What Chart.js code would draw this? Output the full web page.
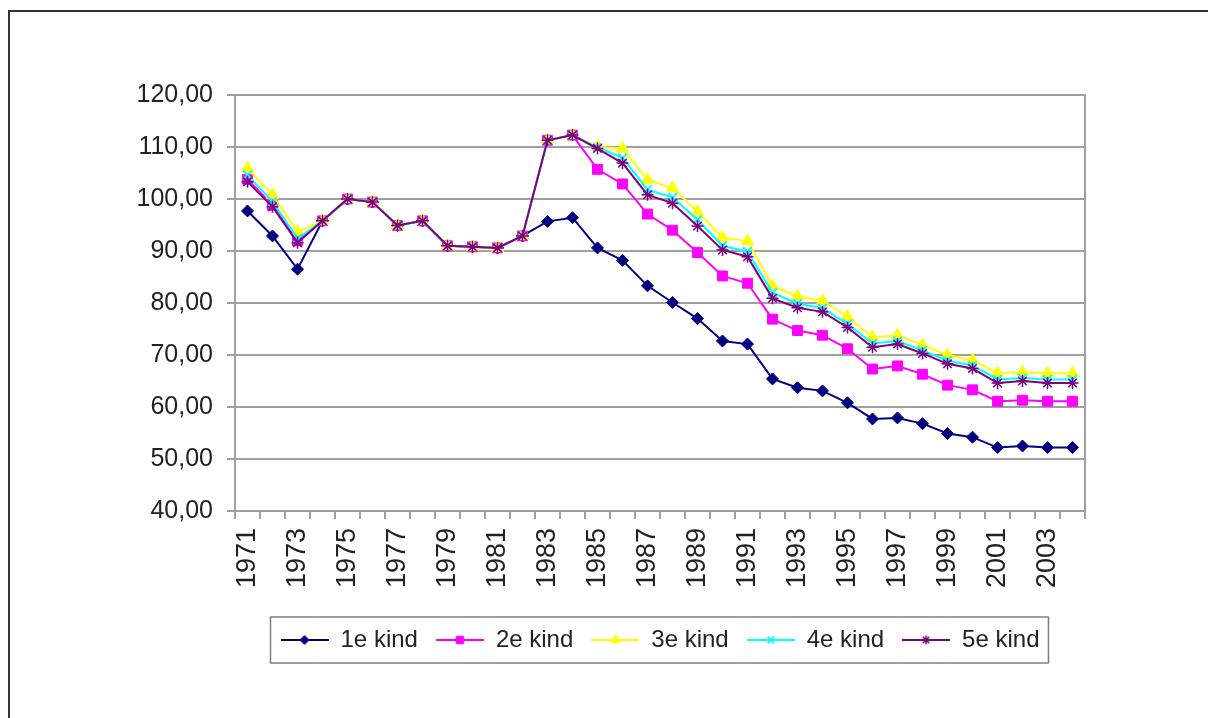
<!DOCTYPE html>
<html>
<head>
<meta charset="utf-8">
<script src="https://cdn.jsdelivr.net/npm/chart.js@4/dist/chart.umd.min.js"></script>
<style>
    body { margin: 0; background: #fff; overflow: hidden; }
    .frame {
        position: absolute; left: 8px; top: 10px;
        width: 1400px; height: 900px;
        border-left: 2px solid #333; border-top: 2px solid #333;
    }
    .wrap { position: absolute; left: 0; top: 0; width: 1208px; height: 718px; }
</style>
</head>
<body>
<div class="frame"></div>
<div class="wrap"><canvas id="chart"></canvas></div>
<script>
// Years on the x axis
const years = [1971, 1972, 1973, 1974, 1975, 1976, 1977, 1978, 1979, 1980,
    1981, 1982, 1983, 1984, 1985, 1986, 1987, 1988, 1989, 1990,
    1991, 1992, 1993, 1994, 1995, 1996, 1997, 1998, 1999, 2000,
    2001, 2002, 2003, 2004];

const seriesNames = ['1e kind', '2e kind', '3e kind', '4e kind', '5e kind'];

const kind1 = [97.7, 92.9, 86.5, 95.8, 100.0, 99.4, 94.9, 95.8, 91.0, 90.8,
    90.6, 92.9, 95.7, 96.4, 90.6, 88.2, 83.3, 80.1, 77.0, 72.7,
    72.1, 65.4, 63.7, 63.1, 60.8, 57.7, 57.9, 56.8, 54.9, 54.2,
    52.2, 52.5, 52.2, 52.2];
const kind2 = [103.8, 98.8, 92.0, 95.8, 100.0, 99.4, 94.9, 95.8, 91.0, 90.8,
    90.6, 92.9, 111.3, 112.3, 105.7, 102.9, 97.1, 94.0, 89.7, 85.2,
    83.8, 76.9, 74.7, 73.8, 71.2, 67.3, 67.9, 66.3, 64.2, 63.3,
    61.1, 61.3, 61.1, 61.1];
const kind3 = [105.9, 100.8, 93.7, 95.8, 100.0, 99.4, 94.9, 95.8, 91.0, 90.8,
    90.6, 92.9, 111.3, 112.3, 110.0, 109.7, 103.7, 102.1, 97.6, 92.6,
    91.9, 83.3, 81.3, 80.4, 77.4, 73.4, 73.8, 71.9, 70.0, 69.0,
    66.5, 66.7, 66.5, 66.5];
const kind4 = [104.6, 99.5, 92.4, 95.8, 100.0, 99.4, 94.9, 95.8, 91.0, 90.8,
    90.6, 92.9, 111.3, 112.3, 109.9, 107.9, 101.8, 100.3, 96.0, 91.0,
    89.9, 82.0, 79.9, 79.0, 76.0, 72.2, 72.7, 70.9, 68.9, 68.0,
    65.3, 65.6, 65.3, 65.3];
const kind5 = [103.3, 98.5, 91.6, 95.8, 100.0, 99.4, 94.9, 95.8, 91.0, 90.8,
    90.6, 92.9, 111.3, 112.3, 109.7, 106.9, 100.8, 99.2, 94.8, 90.2,
    88.9, 80.9, 79.1, 78.3, 75.3, 71.5, 72.1, 70.3, 68.3, 67.4,
    64.6, 65.0, 64.6, 64.6];

const yMin = 40;
const yMax = 120;
const yStep = 10;

const gridColor = '#a0a0a0';
const textColor = '#222';
const fontFamily = '"Liberation Sans", Arial, sans-serif';

// Marker style per series (Excel-like)
const styles = [
    { color: '#000080', line: '#000080', point: 'rectRot', radius: 6, bw: 1 },
    { color: '#ff00ff', line: '#ff00ff', point: 'rect', radius: 7, bw: 1 },
    { color: '#ffff00', line: '#ffff00', point: 'triangle', radius: 7, bw: 1 },
    { color: '#00ffff', line: '#00ffff', point: 'crossRot', radius: 6, bw: 2 },
    { color: '#800080', line: '#800080', point: 'star', radius: 6, bw: 1.5 }
];
const allSeries = [kind1, kind2, kind3, kind4, kind5];

// Little line + marker images for the legend
function legendIcon(s) {
    const c = document.createElement('canvas');
    c.width = 48;
    c.height = 16;
    const g = c.getContext('2d');
    g.strokeStyle = s.line;
    g.lineWidth = 2;
    g.beginPath();
    g.moveTo(0, 8);
    g.lineTo(48, 8);
    g.stroke();
    g.fillStyle = s.color;
    g.strokeStyle = s.color;
    g.lineWidth = s.bw;
    Chart.helpers.drawPoint(g, { pointStyle: s.point, radius: s.radius * 0.75, borderWidth: s.bw, rotation: 0 }, 24, 8);
    return c;
}
const icons = styles.map(legendIcon);

const datasets = allSeries.map((data, i) => ({
    label: seriesNames[i],
    data: data,
    borderColor: styles[i].line,
    backgroundColor: styles[i].color,
    borderWidth: 2,
    pointStyle: styles[i].point,
    pointRadius: styles[i].radius,
    pointBorderWidth: styles[i].bw,
    pointBackgroundColor: styles[i].color,
    pointBorderColor: styles[i].color,
    tension: 0,
    fill: false,
    order: 5 - i // later series on top, like the original
}));

// Right edge of the plot area
const plotFrame = {
    id: 'plotFrame',
    beforeDatasetsDraw(chart) {
        const { ctx, chartArea: a } = chart;
        ctx.save();
        ctx.strokeStyle = gridColor;
        ctx.lineWidth = 2;
        ctx.beginPath();
        ctx.moveTo(a.right, a.top - 1);
        ctx.lineTo(a.right, a.bottom);
        ctx.stroke();
        ctx.restore();
    }
};

// Box around the legend
const legendFrame = {
    id: 'legendFrame',
    afterDraw(chart) {
        const boxes = chart.legend.legendHitBoxes;
        if (!boxes || !boxes.length) return;
        const first = boxes[0];
        const last = boxes[boxes.length - 1];
        const ctx = chart.ctx;
        const x0 = first.left - 10;
        const x1 = last.left + last.width + 9;
        const y0 = first.top - 11;
        const y1 = first.top + first.height + 11;
        ctx.save();
        ctx.strokeStyle = '#808080';
        ctx.lineWidth = 1.5;
        ctx.strokeRect(x0, y0, x1 - x0, y1 - y0);
        ctx.restore();
    }
};

new Chart(document.getElementById('chart'), {
    type: 'line',
    data: { labels: years, datasets: datasets },
    plugins: [plotFrame, legendFrame],
    options: {
        responsive: true,
        maintainAspectRatio: false,
        animation: false,
        layout: { padding: { left: 0, right: 123, top: 95, bottom: 56 } },
        plugins: {
            tooltip: { enabled: false },
            legend: {
                position: 'bottom',
                fullSize: false,
                labels: {
                    usePointStyle: true,
                    pointStyleWidth: 48,
                    padding: 18,
                    color: textColor,
                    font: { family: fontFamily, size: 24 },
                    sort: (a, b) => a.datasetIndex - b.datasetIndex,
                    generateLabels(chart) {
                        const items = Chart.defaults.plugins.legend.labels.generateLabels(chart);
                        items.forEach(it => { it.pointStyle = icons[it.datasetIndex]; });
                        return items;
                    }
                }
            }
        },
        scales: {
            x: {
                type: 'category',
                offset: true,
                afterFit(scale) { scale.height = 99; },
                grid: {
                    offset: true,
                    drawOnChartArea: false,
                    drawTicks: true,
                    tickLength: 8,
                    color: gridColor,
                    lineWidth: 2
                },
                border: { color: gridColor, width: 2 },
                ticks: {
                    autoSkip: false,
                    minRotation: 90,
                    maxRotation: 90,
                    padding: 9,
                    color: textColor,
                    font: { family: fontFamily, size: 27 },
                    callback: function (value, index) {
                        return index % 2 === 0 ? this.getLabelForValue(value) : '';
                    }
                }
            },
            y: {
                min: yMin,
                max: yMax,
                afterFit(scale) { scale.width = 235; },
                grid: {
                    color: gridColor,
                    lineWidth: 2,
                    drawTicks: true,
                    tickLength: 8
                },
                border: { color: gridColor, width: 2 },
                ticks: {
                    stepSize: yStep,
                    padding: 14,
                    color: textColor,
                    font: { family: fontFamily, size: 25 },
                    callback: v => v.toFixed(2).replace('.', ',')
                }
            }
        }
    }
});
</script>
</body>
</html>
